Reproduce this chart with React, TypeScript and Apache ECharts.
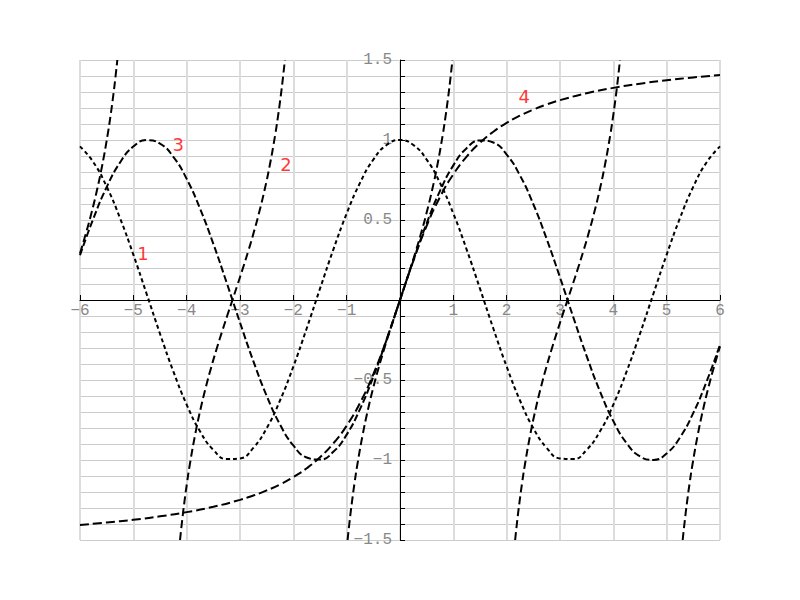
import React, { useEffect, useRef } from "react";
import * as echarts from "echarts";

// x positions for the sine / cosine curves
const trigX = [
  -6, -5.75, -5.5, -5.25, -5, -4.75, -4.5, -4.25, -4, -3.75, -3.5, -3.25, -3, -2.75, -2.5, -2.25,
  -2, -1.75, -1.5, -1.25, -1, -0.75, -0.5, -0.25, 0, 0.25, 0.5, 0.75, 1, 1.25, 1.5, 1.75,
  2, 2.25, 2.5, 2.75, 3, 3.25, 3.5, 3.75, 4, 4.25, 4.5, 4.75, 5, 5.25, 5.5, 5.75, 6,
];

const sinValues = [
  0.2794, 0.5083, 0.7055, 0.8589, 0.9589, 0.9993, 0.9775, 0.895, 0.7568, 0.5716, 0.3508, 0.1082,
  -0.1411, -0.3817, -0.5985, -0.7781, -0.9093, -0.984, -0.9975, -0.949, -0.8415, -0.6816, -0.4794,
  -0.2474, 0, 0.2474, 0.4794, 0.6816, 0.8415, 0.949, 0.9975, 0.984, 0.9093, 0.7781, 0.5985, 0.3817,
  0.1411, -0.1082, -0.3508, -0.5716, -0.7568, -0.895, -0.9775, -0.9993, -0.9589, -0.8589, -0.7055,
  -0.5083, -0.2794,
];

const cosValues = [
  0.9602, 0.8612, 0.7087, 0.5122, 0.2837, 0.0376, -0.2108, -0.4461, -0.6536, -0.8206, -0.9365,
  -0.9941, -0.99, -0.9243, -0.8011, -0.6282, -0.4161, -0.1782, 0.0707, 0.3153, 0.5403, 0.7317,
  0.8776, 0.9689, 1, 0.9689, 0.8776, 0.7317, 0.5403, 0.3153, 0.0707, -0.1782, -0.4161, -0.6282,
  -0.8011, -0.9243, -0.99, -0.9941, -0.9365, -0.8206, -0.6536, -0.4461, -0.2108, 0.0376, 0.2837,
  0.5122, 0.7087, 0.8612, 0.9602,
];

// arctangent curve
const atanX = [
  -6, -5.5, -5, -4.5, -4, -3.5, -3, -2.75, -2.5, -2.25, -2, -1.75, -1.5, -1.25, -1, -0.75, -0.5,
  -0.25, 0, 0.25, 0.5, 0.75, 1, 1.25, 1.5, 1.75, 2, 2.25, 2.5, 2.75, 3, 3.5, 4, 4.5, 5, 5.5, 6,
];
const atanValues = [
  -1.4056, -1.3909, -1.3734, -1.3521, -1.3258, -1.2925, -1.249, -1.222, -1.1903, -1.1526, -1.1071,
  -1.0517, -0.9828, -0.8961, -0.7854, -0.6435, -0.4636, -0.245, 0, 0.245, 0.4636, 0.6435, 0.7854,
  0.8961, 0.9828, 1.0517, 1.1071, 1.1526, 1.1903, 1.222, 1.249, 1.2925, 1.3258, 1.3521, 1.3734,
  1.3909, 1.4056,
];

// tangent branches (each clipped to the visible range)
const tanAX = [-6, -5.8832, -5.7832, -5.6832, -5.5832, -5.4832, -5.4332, -5.3832, -5.3332, -5.3004];
const tanAY = [0.291, 0.4228, 0.5463, 0.6841, 0.8423, 1.0296, 1.1383, 1.2602, 1.3984, 1.5];

const tanBX = [
  -4.1244, -4.0916, -4.0416, -3.9916, -3.9416, -3.8416, -3.7416, -3.6416, -3.5416, -3.4416,
  -3.3416, -3.2416, -3.1416, -3.0416, -2.9416, -2.8416, -2.7416, -2.6416, -2.5416, -2.4416,
  -2.3416, -2.2916, -2.2416, -2.1916, -2.1588,
];
const tanCX = [
  -0.9828, -0.95, -0.9, -0.85, -0.8, -0.7, -0.6, -0.5, -0.4, -0.3, -0.2, -0.1, 0, 0.1, 0.2, 0.3,
  0.4, 0.5, 0.6, 0.7, 0.8, 0.85, 0.9, 0.95, 0.9828,
];
const tanDX = [
  2.1588, 2.1916, 2.2416, 2.2916, 2.3416, 2.4416, 2.5416, 2.6416, 2.7416, 2.8416, 2.9416, 3.0416,
  3.1416, 3.2416, 3.3416, 3.4416, 3.5416, 3.6416, 3.7416, 3.8416, 3.9416, 3.9916, 4.0416, 4.0916,
  4.1244,
];
const tanBranchY = [
  -1.5, -1.3984, -1.2602, -1.1383, -1.0296, -0.8423, -0.6841, -0.5463, -0.4228, -0.3093, -0.2027,
  -0.1003, 0, 0.1003, 0.2027, 0.3093, 0.4228, 0.5463, 0.6841, 0.8423, 1.0296, 1.1383, 1.2602,
  1.3984, 1.5,
];

const tanEX = [5.3004, 5.3332, 5.3832, 5.4332, 5.4832, 5.5832, 5.6832, 5.7832, 5.8832, 6];
const tanEY = [-1.5, -1.3984, -1.2602, -1.1383, -1.0296, -0.8423, -0.6841, -0.5463, -0.4228, -0.291];

// curve labels
const labelNames = ["1", "2", "3", "4"];
const labelX = [-4.82, -2.14, -4.16, 2.33];
const labelY = [0.29, 0.85, 0.975, 1.27];

const zip = (xs: number[], ys: number[]) => xs.map((x, i) => [x, ys[i]]);
const fmt = (r: number) => (r < 0 ? "\u2212" + String(-r) : String(r));

export default function App() {
  const ref = useRef<HTMLDivElement>(null);

  useEffect(() => {
    if (!ref.current) return;
    const chart = echarts.init(ref.current, undefined, { renderer: "svg" });

    const lineBase = (data: number[][], dash: number[]) => ({
      type: "line",
      data,
      showSymbol: false,
      symbol: "none",
      smooth: true,
      silent: true,
      clip: true,
      lineStyle: { color: "#000", width: 2, type: dash },
    });

    const tanDash = [8, 4];

    chart.setOption({
      animation: false,
      backgroundColor: "#fff",
      grid: { left: 80, right: 80, top: 60, bottom: 60, containLabel: false },
      xAxis: {
        type: "value",
        position: "bottom",
        offset: -240,
        min: -6,
        max: 6,
        interval: 1,
        axisLine: { onZero: false, lineStyle: { color: "#000", width: 1 } },
        axisTick: { show: true, inside: true, length: 5, lineStyle: { color: "#000" } },
        axisLabel: {
          margin: 3,
          color: "#888",
          fontFamily: "Liberation Mono",
          fontSize: 16,
          formatter: (v: number) => (Math.abs(v) < 1e-9 ? "" : fmt(Math.round(v))),
        },
        splitLine: { show: true, lineStyle: { color: "#dcdcdc", width: 2 } },
      },
      yAxis: {
        type: "value",
        position: "left",
        offset: -320,
        min: -1.5,
        max: 1.5,
        interval: 0.1,
        axisLine: { onZero: false, lineStyle: { color: "#000", width: 1 } },
        axisTick: { show: true, inside: true, length: 5, lineStyle: { color: "#000" } },
        axisLabel: {
          margin: 8,
          color: "#888",
          fontFamily: "Liberation Mono",
          fontSize: 16,
          formatter: (v: number) => {
            const r = Math.round(v * 10) / 10;
            if (Math.abs(r) < 1e-9) return "";
            if (Math.abs(r * 2 - Math.round(r * 2)) > 1e-6) return "";
            return fmt(r);
          },
        },
        splitLine: { show: true, lineStyle: { color: "#cccccc", width: 1 } },
      },
      series: [
        lineBase(zip(trigX, cosValues), [4, 3]),
        lineBase(zip(trigX, sinValues), [7, 3]),
        lineBase(zip(atanX, atanValues), [9, 4]),
        lineBase(zip(tanAX, tanAY), tanDash),
        lineBase(zip(tanBX, tanBranchY), tanDash),
        lineBase(zip(tanCX, tanBranchY), tanDash),
        lineBase(zip(tanDX, tanBranchY), tanDash),
        lineBase(zip(tanEX, tanEY), tanDash),
        {
          type: "scatter",
          silent: true,
          symbolSize: 10,
          itemStyle: { color: "rgba(0,0,0,0)" },
          label: {
            show: true,
            position: "inside",
            color: "#ff0000",
            fontSize: 18,
            fontFamily: "DejaVu Sans",
            formatter: (p: any) => p.name,
          },
          data: labelNames.map((n, i) => ({ name: n, value: [labelX[i], labelY[i]] })),
        },
      ],
    });

    return () => chart.dispose();
  }, []);

  return (
    <div
      ref={ref}
      style={{ position: "fixed", left: 0, top: 0, width: 800, height: 600 }}
    />
  );
}
